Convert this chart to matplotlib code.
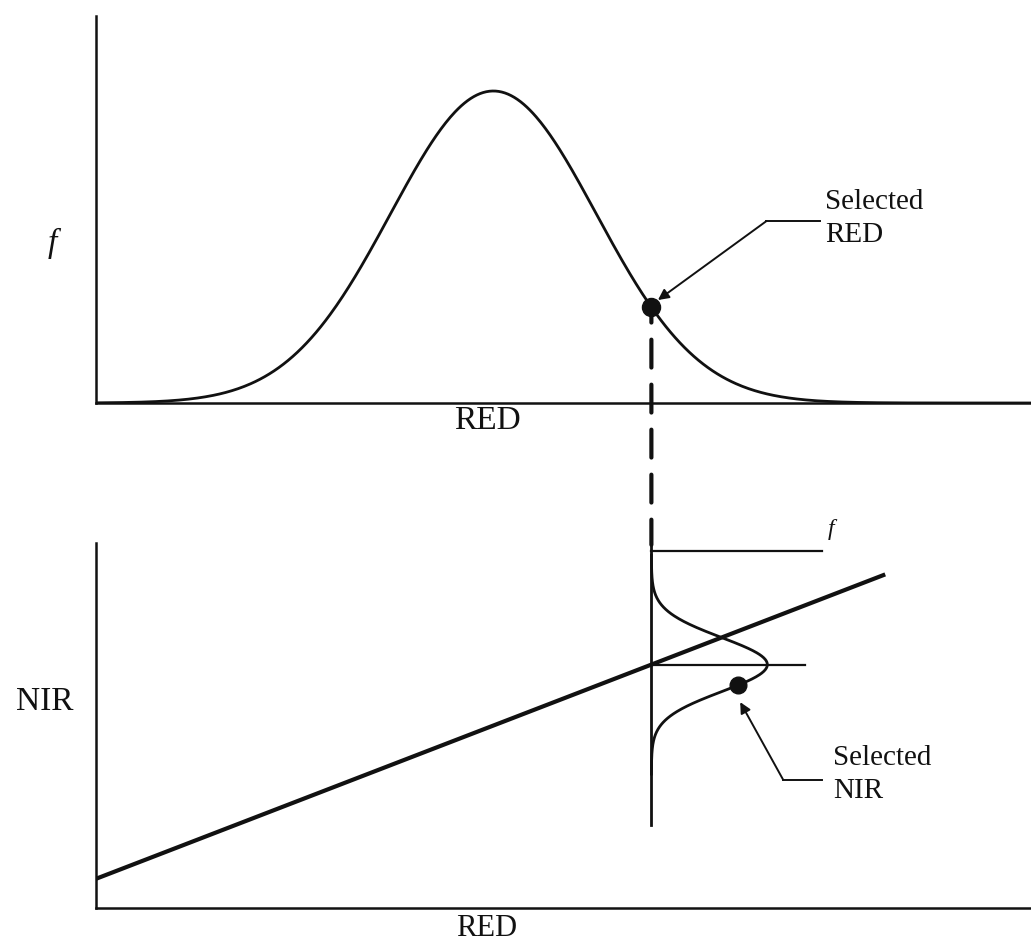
#!/usr/bin/env python3
"""
Selecting a NIR value for a chosen RED value.

Top: frequency curve of RED, with the selected RED marked.
Bottom: NIR vs RED soil line; at the selected RED the NIR values
scatter around the line with their own frequency curve.
"""

import matplotlib
matplotlib.use("Agg")
import matplotlib.pyplot as plt
from matplotlib.patches import ConnectionPatch
import numpy as np

plt.rcParams["font.family"] = ["Liberation Serif", "DejaVu Serif"]

INK = "#111111"

# RED distribution (top panel), RED scale 0..100
red_mean = 42.5
red_sd = 11.0
red_peak = 1.0
red_selected = 59.4

# soil line NIR = a + b * RED (bottom panel), NIR scale 0..100
line_red = [0.2, 84.2]
line_a = 8.0
line_b = 0.988

# NIR scatter at the selected RED
nir_sd = 7.4
nir_amp = 12.4
nir_selected = 61.0
f_top = 97.8


def gauss(x, mu, sd, amp):
    return amp * np.exp(-0.5 * ((x - mu) / sd) ** 2)


fig = plt.figure(figsize=(10.31, 9.42), dpi=100)

# ---- top panel: f vs RED
ax1 = fig.add_axes([96 / 1031, 1 - 403 / 942, 935 / 1031, 387 / 942])
ax1.set_xlim(0, 100)
ax1.set_ylim(0, red_peak * 387 / 312)

xs = np.linspace(0, 100, 600)
ax1.plot(xs, gauss(xs, red_mean, red_sd, red_peak), color=INK, lw=2.0)

f_sel = gauss(red_selected, red_mean, red_sd, red_peak)
ax1.plot(red_selected, f_sel, "o", color=INK, ms=13, zorder=5)

# leader for "Selected RED"
ax1.plot([77.4, 71.7], [0.583, 0.583], color=INK, lw=1.4)
ax1.annotate("", xy=(60.1, 0.330), xytext=(71.7, 0.583),
             arrowprops=dict(arrowstyle="-|>", color=INK, lw=1.4,
                             mutation_scale=16, shrinkA=0, shrinkB=0))
ax1.text(78.0, 0.59, "Selected\nRED", fontsize=21, ha="left", va="center",
         linespacing=1.35, color=INK)

# ---- bottom panel: NIR vs RED
ax2 = fig.add_axes([96 / 1031, 1 - 908 / 942, 935 / 1031, 365 / 942])
ax2.set_xlim(0, 100)
ax2.set_ylim(0, 100)

ax2.plot(line_red, [line_a + line_b * r for r in line_red], color=INK, lw=3.0)

nir_pred = line_a + line_b * red_selected

# small f axes at the selected RED
ax2.plot([red_selected, red_selected], [22.7, 99.5], color=INK, lw=2.0)
ax2.plot([red_selected, 77.6], [f_top, f_top], color=INK, lw=1.6)
ax2.plot([red_selected, 75.8], [nir_pred, nir_pred], color=INK, lw=1.6)
ax2.text(78.6, 103.8, "f", fontsize=17, style="italic", ha="center",
         va="center", color=INK, clip_on=False)

ny = np.linspace(nir_pred - 30, nir_pred + 30, 400)
ax2.plot(red_selected + gauss(ny, nir_pred, nir_sd, nir_amp), ny,
         color=INK, lw=2.0)

ax2.plot(red_selected + gauss(nir_selected, nir_pred, nir_sd, nir_amp),
         nir_selected, "o", color=INK, ms=12, zorder=5)

# leader for "Selected NIR"
ax2.plot([77.6, 73.5], [35.1, 35.1], color=INK, lw=1.4)
ax2.annotate("", xy=(68.9, 56.4), xytext=(73.5, 35.1),
             arrowprops=dict(arrowstyle="-|>", color=INK, lw=1.4,
                             mutation_scale=16, shrinkA=0, shrinkB=0))
ax2.text(78.8, 36.7, "Selected\nNIR", fontsize=21, ha="left", va="center",
         linespacing=1.35, color=INK)

# dashed drop from the selected RED down to the NIR frequency axis
con = ConnectionPatch(xyA=(red_selected, f_sel), coordsA=ax1.transData,
                      xyB=(red_selected, 99.5), coordsB=ax2.transData,
                      color=INK, lw=3.0, linestyle=(3, (6.7, 4.1)))
fig.add_artist(con)

for ax in (ax1, ax2):
    for side in ("top", "right"):
        ax.spines[side].set_visible(False)
    for side in ("left", "bottom"):
        ax.spines[side].set_linewidth(1.8)
        ax.spines[side].set_color(INK)
    ax.set_xticks([])
    ax.set_yticks([])
    ax.patch.set_alpha(0)

# axis labels
fig.text(52 / 1031, 1 - 243 / 942, "f", fontsize=24, style="italic",
         ha="center", va="center", color=INK)
fig.text(487 / 1031, 1 - 421 / 942, "RED", fontsize=24, ha="center",
         va="center", color=INK)
fig.text(45 / 1031, 1 - 702 / 942, "NIR", fontsize=24, ha="center",
         va="center", color=INK)
fig.text(487 / 1031, 1 - 936 / 942, "RED", fontsize=22, ha="center",
         va="baseline", color=INK)

fig.savefig("out.png", dpi=100, facecolor="white")
